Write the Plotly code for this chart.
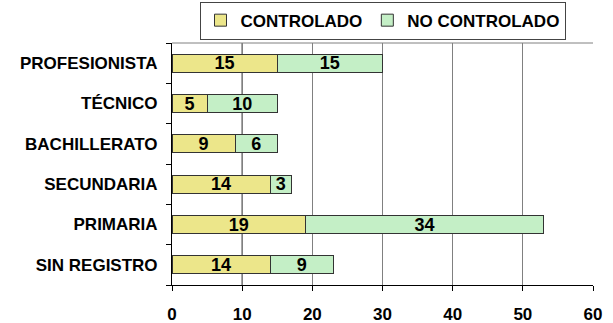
import plotly.graph_objects as go

# Education levels, listed top to bottom
niveles = ["PROFESIONISTA", "TÉCNICO", "BACHILLERATO", "SECUNDARIA", "PRIMARIA", "SIN REGISTRO"]
controlado = [15, 5, 9, 14, 19, 14]
no_controlado = [15, 10, 6, 3, 34, 9]
x_ticks = [0, 10, 20, 30, 40, 50, 60]

font_family = "Liberation Sans, Arial, sans-serif"
bold = dict(family=font_family, size=17, color="black", weight="bold")
bar_text = dict(family=font_family, size=18, color="black", weight="bold")

fig = go.Figure()
fig.add_trace(go.Bar(
    y=niveles, x=controlado, orientation="h", name="CONTROLADO",
    marker=dict(color="#ECE68A", line=dict(color="#333333", width=1)),
    text=controlado, textposition="inside", insidetextanchor="middle",
    textfont=bar_text, constraintext="none", textangle=0,
))
fig.add_trace(go.Bar(
    y=niveles, x=no_controlado, orientation="h", name="NO CONTROLADO",
    marker=dict(color="#C4EFC6", line=dict(color="#333333", width=1)),
    text=no_controlado, textposition="inside", insidetextanchor="middle",
    textfont=bar_text, constraintext="none", textangle=0,
))

fig.update_layout(
    barmode="stack",
    bargap=0.55,
    width=613, height=323,
    margin=dict(l=172, r=20, t=43, b=38, autoexpand=False),
    paper_bgcolor="white", plot_bgcolor="white",
    font=bold,
    showlegend=True,
    legend=dict(
        orientation="h", x=0.5, xanchor="center",
        yref="container", y=0.995, yanchor="top",
        bordercolor="#444444", borderwidth=1,
        font=bold, itemwidth=30, traceorder="normal",
    ),
    xaxis=dict(
        range=[0, 60], tickvals=x_ticks, showgrid=True,
        gridcolor="#808080", gridwidth=1,
        showline=True, linecolor="black", linewidth=1,
        ticks="outside", ticklen=5, tickcolor="black",
        tickfont=bold, zeroline=False, mirror=False,
        ticklabelstandoff=9, automargin=False,
    ),
    yaxis=dict(
        categoryorder="array", categoryarray=niveles[::-1],
        showline=True, linecolor="black", linewidth=1,
        ticks="outside", ticklen=5, tickcolor="black",
        tickson="boundaries", tickfont=bold, showgrid=False,
        ticklabelstandoff=10, automargin=False,
    ),
)

# Top border of the plot area and the darker gridline at 10
fig.add_shape(type="line", xref="paper", yref="paper", x0=0, x1=1, y0=1, y1=1,
              line=dict(color="#808080", width=1))
fig.add_shape(type="line", xref="x", yref="paper", x0=10, x1=10, y0=0, y1=1,
              line=dict(color="black", width=1), layer="between")

fig.write_html("out.html")
